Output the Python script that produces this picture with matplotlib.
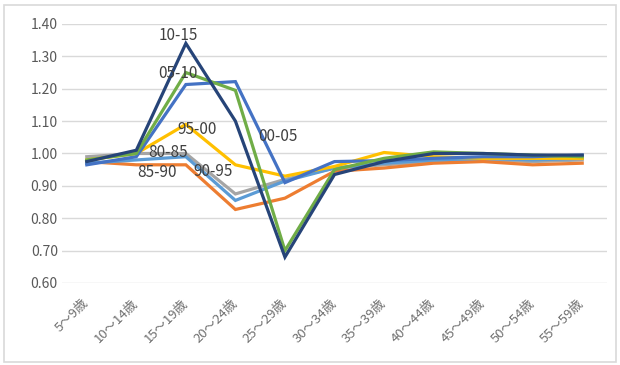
import numpy as np
import matplotlib.pyplot as plt

plt.rcParams['font.family'] = ['Noto Sans CJK JP', 'DejaVu Sans']

ages = ['5～9歳', '10～14歳', '15～19歳', '20～24歳', '25～29歳', '30～34歳',
        '35～39歳', '40～44歳', '45～49歳', '50～54歳', '55～59歳']

s80_85 = [0.99, 1.00, 1.00, 0.875, 0.92, 0.955, 0.965, 0.975, 0.98, 0.975, 0.98]
s85_90 = [0.975, 0.965, 0.965, 0.827, 0.862, 0.945, 0.955, 0.97, 0.975, 0.965, 0.97]
s90_95 = [0.97, 0.98, 0.99, 0.855, 0.915, 0.955, 0.97, 0.98, 0.985, 0.98, 0.985]
s95_00 = [0.98, 1.00, 1.09, 0.965, 0.93, 0.96, 1.003, 0.99, 0.985, 0.985, 0.985]
s00_05 = [0.965, 0.99, 1.213, 1.222, 0.91, 0.975, 0.978, 0.985, 0.99, 0.99, 0.995]
s05_10 = [0.98, 1.00, 1.25, 1.195, 0.70, 0.95, 0.985, 1.005, 1.00, 0.995, 0.99]
s10_15 = [0.975, 1.01, 1.34, 1.10, 0.68, 0.935, 0.975, 1.00, 1.00, 0.995, 0.995]

series = [
    ('80-85', s80_85, '#A5A5A5'),
    ('85-90', s85_90, '#ED7D31'),
    ('90-95', s90_95, '#5B9BD5'),
    ('95-00', s95_00, '#FFC000'),
    ('00-05', s00_05, '#4472C4'),
    ('05-10', s05_10, '#70AD47'),
    ('10-15', s10_15, '#264478'),
]

# label spots (category index, value)
label_pos = {
    '10-15': (1.85, 1.365),
    '05-10': (1.85, 1.247),
    '95-00': (2.22, 1.074),
    '00-05': (3.85, 1.052),
    '80-85': (1.65, 1.003),
    '85-90': (1.42, 0.94),
    '90-95': (2.55, 0.944),
}

fig = plt.figure(figsize=(6.2, 3.65), dpi=100)
fig.patches.append(plt.Rectangle((0.006, 0.008), 0.988, 0.978, transform=fig.transFigure,
                                 fill=False, edgecolor='#D9D9D9', linewidth=1.2))
ax = fig.add_axes([0.1, 0.2247, 0.879, 0.7096])

x = np.arange(len(ages))
for name, vals, col in series:
    ax.plot(x, vals, color=col, linewidth=2.3, solid_joinstyle='miter')

for name, (lx, ly) in label_pos.items():
    ax.text(lx, ly, name, fontsize=11, color='#404040', ha='center', va='center')

ax.set_xlim(-0.5, len(ages) - 0.5)
ax.set_ylim(0.6, 1.4)
ax.set_yticks(np.arange(0.6, 1.41, 0.1))
ax.set_yticklabels(['%.2f' % v for v in np.arange(0.6, 1.41, 0.1)])
ax.set_xticks(x)
ax.set_xticklabels(ages, rotation=45, ha='right', va='center', rotation_mode='anchor')
ax.grid(axis='y', color='#D9D9D9', linewidth=1)
ax.set_axisbelow(True)
for sp in ax.spines.values():
    sp.set_visible(False)
ax.tick_params(axis='both', length=0, colors='#595959')
ax.tick_params(axis='y', pad=3, labelsize=10)
ax.tick_params(axis='x', pad=13, labelsize=9.5, labelcolor='#6f6f6f')

fig.savefig('out.png', dpi=100)
